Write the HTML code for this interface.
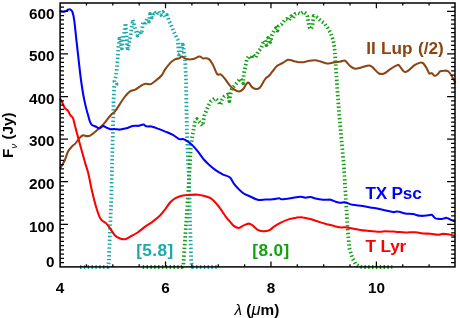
<!DOCTYPE html>
<html><head><meta charset="utf-8"><style>
html,body{margin:0;padding:0;background:#fff;}
svg{display:block;will-change:transform;opacity:0.999}
text{font-family:"Liberation Sans",sans-serif;font-weight:bold;font-size:15.3px;fill:#000}
.lg{font-size:17.2px}
.sy{font-weight:normal;font-style:italic}
</style></head><body>
<svg width="460" height="318" viewBox="0 0 460 318">
<rect width="460" height="318" fill="#fff"/>
<g fill="none" stroke-linejoin="round" stroke-linecap="butt">
<path d="M80.0 267.0 L107.7 267.0 L108.9 262.0 L110.0 230.0 L111.3 200.0 L112.1 160.0 L113.0 130.0 L113.6 100.0 L114.2 86.0 L116.6 84.0 L114.4 81.5 L116.0 76.0 L117.7 59.0 L118.3 47.5 L119.6 36.5 L121.8 48.5 L125.6 23.2 L127.6 50.5 L130.5 36.0 L132.8 19.9 L135.5 30.0 L137.5 35.5 L140.0 31.0 L141.5 34.0 L143.2 21.4 L145.0 25.0 L147.0 19.0 L149.0 21.5 L150.0 14.0 L152.0 17.5 L154.0 11.5 L156.5 14.5 L158.5 11.3 L161.0 15.0 L163.0 12.0 L165.5 17.0 L167.0 15.0 L169.0 21.0 L170.2 22.9 L172.5 28.5 L174.9 34.2 L177.7 39.8 L178.3 47.0 L178.8 54.5 L181.6 52.0 L182.4 42.5 L183.6 48.0 L184.6 56.0 L185.2 62.0 L186.0 80.0 L186.5 110.0 L187.0 135.0 L188.0 160.0 L189.0 180.0 L190.0 220.0 L191.2 262.0 L192.5 267.0 L217.0 267.0" stroke="#1aa9a9" stroke-width="3.8" stroke-dasharray="1.45 2.39"/>
<path d="M142.7 267.0 L182.0 267.0 L183.4 264.5 L185.0 240.0 L187.0 210.0 L189.0 180.0 L190.8 148.3 L192.0 138.0 L193.6 129.4 L195.0 122.0 L197.0 119.0 L199.5 122.0 L202.6 125.7 L203.5 120.0 L204.5 115.3 L208.3 105.8 L211.0 101.0 L214.9 98.3 L217.0 100.0 L220.6 104.9 L222.0 100.0 L224.3 96.4 L228.1 94.5 L229.4 101.1 L230.5 94.0 L231.9 88.9 L236.6 83.2 L240.4 78.5 L243.2 83.2 L243.6 75.0 L245.1 68.0 L246.8 59.2 L249.0 56.0 L251.0 59.0 L253.0 54.5 L255.5 57.5 L258.0 52.0 L260.9 48.6 L263.0 43.0 L264.5 40.4 L266.5 45.0 L268.0 38.0 L270.5 42.0 L272.0 35.0 L273.9 30.9 L276.0 28.0 L277.5 30.5 L278.6 26.2 L281.9 24.0 L284.5 20.3 L286.6 19.0 L289.0 20.5 L291.3 16.3 L293.0 18.5 L295.0 14.0 L297.9 12.9 L300.5 14.0 L303.6 11.8 L306.0 13.5 L307.5 16.5 L308.3 22.0 L309.3 27.0 L310.8 29.2 L312.3 26.5 L313.0 20.5 L313.7 16.0 L316.8 17.3 L320.6 20.6 L324.6 23.5 L327.7 28.0 L330.6 33.0 L333.1 39.9 L334.5 47.5 L335.4 60.0 L337.0 85.0 L339.0 112.0 L341.5 140.0 L343.8 165.0 L345.9 199.6 L347.5 227.3 L349.3 248.0 L352.5 258.4 L356.0 264.7 L359.4 266.6 L362.0 267.0 L392.3 267.0" stroke="#14a014" stroke-width="3.8" stroke-dasharray="1.45 2.39"/>
<path d="M59.9 168.8 C60.7 167.3 63.6 162.9 64.9 160.0 C66.2 157.1 66.8 153.9 67.9 151.7 C69.1 149.5 70.4 148.1 71.7 146.7 C73.0 145.3 74.2 144.8 75.5 143.4 C76.7 142.0 78.0 139.7 79.2 138.4 C80.5 137.0 81.8 135.7 83.0 135.3 C84.3 135.0 85.5 136.1 86.8 136.1 C88.1 136.1 88.9 136.3 90.6 135.3 C92.2 134.4 95.0 131.9 96.9 130.3 C98.7 128.7 100.4 127.3 101.9 125.8 C103.4 124.3 104.2 123.3 105.7 121.5 C107.1 119.7 109.1 116.9 110.7 115.2 C112.2 113.5 113.4 113.3 115.0 111.4 C116.5 109.6 118.3 106.4 120.0 103.9 C121.7 101.4 123.4 98.4 125.1 96.4 C126.7 94.3 128.4 92.5 130.1 91.3 C131.8 90.2 133.4 90.4 135.1 89.6 C136.8 88.7 138.5 87.3 140.2 86.3 C141.8 85.3 143.5 84.1 145.2 83.8 C146.9 83.4 148.8 84.6 150.2 84.3 C151.7 84.0 152.9 82.7 154.0 82.0 C155.0 81.3 155.3 81.1 156.5 80.0 C157.8 78.9 160.1 77.3 161.5 75.5 C163.0 73.7 163.8 71.3 165.3 69.2 C166.8 67.1 168.7 64.6 170.3 62.9 C172.0 61.2 173.9 59.9 175.4 59.1 C176.8 58.4 178.1 58.8 179.2 58.4 C180.2 57.9 180.4 56.5 181.7 56.6 C182.9 56.7 184.8 58.7 186.7 59.1 C188.6 59.5 190.9 59.5 193.0 59.1 C195.1 58.7 197.6 56.7 199.3 56.6 C201.0 56.5 202.1 58.1 203.1 58.4 C204.0 58.6 204.0 58.2 205.0 58.3 C206.0 58.4 207.6 58.1 208.9 59.1 C210.2 60.1 211.4 62.1 212.8 64.6 C214.2 67.1 215.8 72.4 217.1 74.0 C218.4 75.6 219.4 73.7 220.7 74.4 C221.9 75.1 223.1 76.5 224.6 78.3 C226.1 80.1 227.9 83.2 229.5 85.1 C231.1 87.0 232.8 88.5 234.4 89.6 C236.0 90.6 237.7 91.5 239.2 91.4 C240.7 91.3 242.0 90.3 243.2 89.0 C244.4 87.7 245.5 84.7 246.5 83.7 C247.5 82.7 248.1 82.2 249.0 82.8 C249.9 83.4 250.8 86.1 252.0 87.1 C253.2 88.1 254.6 88.9 255.9 89.0 C257.2 89.1 258.7 88.7 259.8 87.7 C260.9 86.7 261.7 84.8 262.7 83.2 C263.7 81.6 264.7 79.5 265.7 78.3 C266.7 77.1 267.5 77.4 268.6 76.3 C269.7 75.2 271.2 73.0 272.5 71.4 C273.8 69.8 275.2 67.6 276.4 66.5 C277.5 65.4 278.2 65.2 279.4 64.6 C280.5 63.9 281.8 63.4 283.3 62.6 C284.8 61.8 286.4 59.9 288.2 59.7 C290.0 59.5 292.4 60.8 294.2 61.2 C296.0 61.6 297.3 62.0 298.9 62.2 C300.5 62.4 302.0 62.4 303.6 62.2 C305.2 62.0 306.4 61.3 308.3 61.0 C310.2 60.7 312.8 60.2 314.9 60.3 C316.9 60.4 318.9 61.1 320.6 61.6 C322.3 62.1 323.9 62.8 325.3 63.1 C326.7 63.4 327.4 63.6 329.0 63.5 C330.6 63.4 332.8 62.5 334.7 62.2 C336.6 61.9 338.7 61.9 340.4 61.6 C342.1 61.4 343.4 60.0 345.0 60.7 C346.6 61.4 348.4 64.6 350.0 65.9 C351.7 67.2 353.2 68.4 355.1 68.7 C356.9 68.9 359.0 68.0 361.4 67.4 C363.7 66.9 367.0 65.4 368.9 65.4 C370.8 65.4 371.0 66.1 372.7 67.4 C374.4 68.8 377.1 72.5 379.0 73.5 C380.8 74.5 382.1 74.2 384.0 73.5 C385.9 72.7 388.2 70.5 390.3 69.2 C392.4 67.8 395.1 66.0 396.6 65.4 C398.0 64.8 397.8 64.4 399.1 65.4 C400.3 66.5 402.7 70.8 404.1 71.7 C405.6 72.6 406.2 72.0 407.9 70.9 C409.6 69.9 412.3 66.8 414.2 65.4 C416.1 64.1 417.7 63.3 419.2 62.9 C420.7 62.5 421.7 62.2 423.0 63.1 C424.2 64.1 425.7 66.7 426.8 68.4 C427.8 70.1 428.4 72.7 429.3 73.5 C430.1 74.3 431.0 72.8 431.8 73.2 C432.6 73.6 433.5 75.4 434.3 75.7 C435.1 76.0 435.9 75.7 436.8 75.0 C437.8 74.3 439.0 72.2 440.1 71.4 C441.2 70.7 442.3 70.7 443.6 70.7 C444.9 70.6 446.6 70.4 447.9 71.2 C449.2 72.0 450.2 73.5 451.4 75.5 C452.7 77.5 454.8 82.0 455.4 83.3" stroke="#8b4513" stroke-width="2.05"/>
<path d="M59.9 10.8 C60.4 11.0 61.9 11.8 62.9 11.8 C63.9 11.9 65.0 11.4 65.9 11.1 C66.8 10.7 67.7 9.8 68.4 9.6 C69.2 9.3 69.8 9.1 70.4 9.6 C71.1 10.0 71.8 10.3 72.5 12.1 C73.1 13.8 73.5 15.0 74.2 20.1 C74.9 25.2 75.6 32.8 76.7 42.8 C77.9 52.7 79.7 70.4 81.0 80.0 C82.3 89.6 83.1 94.3 84.3 100.1 C85.5 106.0 86.9 111.2 88.1 115.2 C89.2 119.2 89.8 122.1 91.1 124.0 C92.3 125.9 94.2 125.8 95.6 126.5 C97.0 127.3 98.1 128.4 99.4 128.3 C100.6 128.2 101.9 126.1 103.1 126.0 C104.4 126.0 105.7 127.3 106.9 127.8 C108.2 128.3 109.4 129.1 110.7 129.3 C112.0 129.5 113.4 129.0 115.0 129.1 C116.5 129.1 118.1 129.7 120.0 129.6 C121.9 129.4 124.2 128.9 126.3 128.3 C128.4 127.7 130.5 126.5 132.6 126.0 C134.7 125.6 137.1 126.0 138.9 125.8 C140.7 125.5 142.2 124.4 143.4 124.5 C144.7 124.6 145.1 126.0 146.4 126.3 C147.8 126.6 149.6 126.2 151.5 126.5 C153.4 126.9 155.5 127.7 157.8 128.6 C160.1 129.4 162.8 130.5 165.3 131.6 C167.8 132.6 170.6 133.6 172.9 134.8 C175.2 136.1 177.5 138.4 179.2 139.1 C180.8 139.8 181.5 138.7 182.9 139.1 C184.4 139.5 186.3 140.5 188.0 141.6 C189.6 142.8 191.3 144.2 193.0 145.9 C194.7 147.6 196.1 149.4 198.0 151.7 C199.9 154.0 202.4 157.8 204.3 160.0 C206.2 162.2 207.5 163.4 209.3 165.0 C211.2 166.7 213.3 168.5 215.6 170.1 C217.9 171.7 220.8 173.3 223.2 174.6 C225.6 175.8 228.0 175.8 230.0 177.6 C231.9 179.4 232.9 182.6 235.0 185.2 C237.1 187.7 240.1 190.8 242.6 192.7 C245.1 194.6 247.6 195.3 250.1 196.5 C252.6 197.7 255.2 199.2 257.7 199.7 C260.2 200.3 262.7 199.6 265.2 199.5 C267.7 199.4 270.5 199.5 272.8 199.2 C275.1 199.0 277.6 198.2 279.1 198.2 C280.5 198.2 279.7 199.2 281.6 199.2 C283.5 199.2 287.2 198.7 290.4 198.2 C293.5 197.8 297.9 196.8 300.4 196.7 C303.0 196.6 303.8 197.7 305.5 197.7 C307.1 197.8 308.8 196.9 310.5 197.0 C312.2 197.1 313.4 198.0 315.5 198.5 C317.6 199.0 320.6 199.5 323.1 199.7 C325.6 200.0 328.5 199.4 330.6 199.7 C332.7 200.1 334.0 201.3 335.7 201.8 C337.3 202.3 339.1 202.7 340.7 202.8 C342.2 202.9 343.0 201.9 345.0 202.3 C346.9 202.6 349.6 204.2 352.5 204.8 C355.5 205.4 359.3 205.5 362.6 206.0 C366.0 206.5 369.3 207.2 372.7 207.8 C376.0 208.4 379.4 209.1 382.7 209.8 C386.1 210.5 390.3 211.8 392.8 212.1 C395.3 212.4 395.7 211.3 397.8 211.6 C399.9 211.8 402.9 213.2 405.4 213.6 C407.9 214.0 410.4 213.7 412.9 214.1 C415.4 214.5 418.0 215.6 420.5 215.8 C423.0 216.1 426.1 215.5 428.0 215.3 C429.9 215.2 430.5 214.3 431.8 214.8 C433.1 215.3 433.9 217.7 435.6 218.4 C437.2 219.0 440.0 219.0 441.9 218.9 C443.7 218.8 445.2 217.6 446.9 217.9 C448.6 218.1 450.5 219.7 451.9 220.4 C453.3 221.0 454.6 221.4 455.2 221.6" stroke="#0000ff" stroke-width="2.05"/>
<path d="M59.9 98.1 C60.4 99.1 62.1 102.2 62.9 103.9 C63.7 105.6 64.1 107.0 64.9 108.2 C65.7 109.3 67.0 109.5 67.9 110.7 C68.8 111.9 69.6 114.0 70.4 115.2 C71.3 116.5 72.1 116.1 73.0 118.2 C73.8 120.3 74.4 123.9 75.5 127.8 C76.5 131.7 77.8 136.3 79.2 141.6 C80.7 147.0 82.8 154.8 84.3 160.0 C85.7 165.2 86.8 167.5 88.1 172.6 C89.3 177.6 90.6 184.7 91.8 190.2 C93.1 195.6 94.3 200.9 95.6 205.3 C96.9 209.7 98.3 214.1 99.4 216.6 C100.4 219.1 100.8 219.3 101.9 220.4 C102.9 221.4 104.4 221.7 105.7 222.9 C106.9 224.1 107.9 225.3 109.4 227.4 C111.0 229.5 113.2 233.6 115.0 235.5 C116.7 237.3 118.3 237.9 120.0 238.5 C121.7 239.1 123.4 239.5 125.1 239.2 C126.7 239.0 128.0 237.9 130.1 236.7 C132.2 235.6 135.1 234.1 137.6 232.5 C140.2 230.8 142.7 228.5 145.2 226.7 C147.7 224.9 150.2 223.5 152.7 221.6 C155.3 219.7 158.2 217.4 160.3 215.3 C162.4 213.2 163.6 211.2 165.3 209.1 C167.0 206.9 168.7 204.1 170.3 202.3 C172.0 200.5 173.5 199.3 175.4 198.2 C177.3 197.1 179.6 196.3 181.7 195.7 C183.8 195.2 185.2 195.1 188.0 195.0 C190.7 194.8 195.3 194.5 198.0 194.7 C200.7 194.9 202.2 195.4 204.3 196.0 C206.4 196.6 208.7 197.1 210.6 198.2 C212.5 199.4 214.0 201.0 215.6 202.8 C217.3 204.6 219.0 206.8 220.7 209.1 C222.3 211.4 224.1 214.5 225.7 216.6 C227.2 218.7 228.6 220.1 230.0 221.6 C231.3 223.2 232.3 224.9 233.8 225.9 C235.2 227.0 237.1 228.0 238.8 227.9 C240.5 227.8 242.2 226.1 243.8 225.4 C245.5 224.7 247.4 223.6 248.9 223.6 C250.3 223.6 251.2 224.4 252.6 225.4 C254.1 226.5 256.0 229.0 257.7 229.9 C259.4 230.9 260.8 231.1 262.7 231.2 C264.6 231.3 267.1 231.2 269.0 230.4 C270.9 229.7 272.1 227.9 274.0 226.7 C275.9 225.4 277.8 224.2 280.3 222.9 C282.8 221.6 286.4 220.0 289.1 219.1 C291.8 218.2 294.4 217.9 296.7 217.6 C299.0 217.3 300.6 217.1 303.0 217.4 C305.3 217.6 308.0 218.4 310.5 219.1 C313.0 219.8 315.3 220.8 318.1 221.6 C320.8 222.5 323.9 223.4 326.9 224.2 C329.8 224.9 333.1 225.9 335.7 226.4 C338.2 227.0 340.4 227.3 341.9 227.4 C343.5 227.5 343.2 227.0 345.0 227.2 C346.7 227.3 350.0 228.0 352.5 228.4 C355.1 228.9 357.2 229.5 360.1 229.9 C363.0 230.4 366.8 230.6 370.2 230.9 C373.5 231.2 377.7 231.7 380.2 231.7 C382.7 231.7 382.7 231.2 385.3 231.2 C387.8 231.2 392.0 231.5 395.3 231.7 C398.7 231.9 402.0 232.4 405.4 232.5 C408.7 232.5 412.5 232.0 415.4 232.2 C418.4 232.4 420.5 233.2 423.0 233.5 C425.5 233.7 428.0 233.5 430.5 233.7 C433.1 233.9 436.0 234.7 438.1 234.7 C440.2 234.7 441.2 233.8 443.1 233.7 C445.0 233.7 447.4 234.1 449.4 234.5 C451.4 234.8 454.2 235.7 455.2 236.0" stroke="#ff0000" stroke-width="2.05"/>
</g>
<g fill="none" stroke="#000">
<rect x="60.1" y="3.0" width="394.9" height="263.9" stroke-width="1.5"/>
<path d="M86.46 266.90 v-2.60 M86.46 3.00 v2.60 M112.82 266.90 v-2.60 M112.82 3.00 v2.60 M139.17 266.90 v-2.60 M139.17 3.00 v2.60 M165.53 266.90 v-5.30 M165.53 3.00 v5.30 M191.89 266.90 v-2.60 M191.89 3.00 v2.60 M218.25 266.90 v-2.60 M218.25 3.00 v2.60 M244.61 266.90 v-2.60 M244.61 3.00 v2.60 M270.97 266.90 v-5.30 M270.97 3.00 v5.30 M297.32 266.90 v-2.60 M297.32 3.00 v2.60 M323.68 266.90 v-2.60 M323.68 3.00 v2.60 M350.04 266.90 v-2.60 M350.04 3.00 v2.60 M376.40 266.90 v-5.30 M376.40 3.00 v5.30 M402.76 266.90 v-2.60 M402.76 3.00 v2.60 M429.12 266.90 v-2.60 M429.12 3.00 v2.60 M60.10 262.64 h3.90 M455.00 262.64 h-3.90 M60.10 258.38 h3.90 M455.00 258.38 h-3.90 M60.10 254.12 h3.90 M455.00 254.12 h-3.90 M60.10 249.86 h3.90 M455.00 249.86 h-3.90 M60.10 245.60 h3.90 M455.00 245.60 h-3.90 M60.10 241.34 h3.90 M455.00 241.34 h-3.90 M60.10 237.08 h3.90 M455.00 237.08 h-3.90 M60.10 232.82 h3.90 M455.00 232.82 h-3.90 M60.10 228.56 h3.90 M455.00 228.56 h-3.90 M60.10 224.30 h7.90 M455.00 224.30 h-7.90 M60.10 220.04 h3.90 M455.00 220.04 h-3.90 M60.10 215.78 h3.90 M455.00 215.78 h-3.90 M60.10 211.52 h3.90 M455.00 211.52 h-3.90 M60.10 207.26 h3.90 M455.00 207.26 h-3.90 M60.10 203.00 h3.90 M455.00 203.00 h-3.90 M60.10 198.74 h3.90 M455.00 198.74 h-3.90 M60.10 194.48 h3.90 M455.00 194.48 h-3.90 M60.10 190.22 h3.90 M455.00 190.22 h-3.90 M60.10 185.96 h3.90 M455.00 185.96 h-3.90 M60.10 181.70 h7.90 M455.00 181.70 h-7.90 M60.10 177.44 h3.90 M455.00 177.44 h-3.90 M60.10 173.18 h3.90 M455.00 173.18 h-3.90 M60.10 168.92 h3.90 M455.00 168.92 h-3.90 M60.10 164.66 h3.90 M455.00 164.66 h-3.90 M60.10 160.40 h3.90 M455.00 160.40 h-3.90 M60.10 156.14 h3.90 M455.00 156.14 h-3.90 M60.10 151.88 h3.90 M455.00 151.88 h-3.90 M60.10 147.62 h3.90 M455.00 147.62 h-3.90 M60.10 143.36 h3.90 M455.00 143.36 h-3.90 M60.10 139.10 h7.90 M455.00 139.10 h-7.90 M60.10 134.84 h3.90 M455.00 134.84 h-3.90 M60.10 130.58 h3.90 M455.00 130.58 h-3.90 M60.10 126.32 h3.90 M455.00 126.32 h-3.90 M60.10 122.06 h3.90 M455.00 122.06 h-3.90 M60.10 117.80 h3.90 M455.00 117.80 h-3.90 M60.10 113.54 h3.90 M455.00 113.54 h-3.90 M60.10 109.28 h3.90 M455.00 109.28 h-3.90 M60.10 105.02 h3.90 M455.00 105.02 h-3.90 M60.10 100.76 h3.90 M455.00 100.76 h-3.90 M60.10 96.50 h7.90 M455.00 96.50 h-7.90 M60.10 92.24 h3.90 M455.00 92.24 h-3.90 M60.10 87.98 h3.90 M455.00 87.98 h-3.90 M60.10 83.72 h3.90 M455.00 83.72 h-3.90 M60.10 79.46 h3.90 M455.00 79.46 h-3.90 M60.10 75.20 h3.90 M455.00 75.20 h-3.90 M60.10 70.94 h3.90 M455.00 70.94 h-3.90 M60.10 66.68 h3.90 M455.00 66.68 h-3.90 M60.10 62.42 h3.90 M455.00 62.42 h-3.90 M60.10 58.16 h3.90 M455.00 58.16 h-3.90 M60.10 53.90 h7.90 M455.00 53.90 h-7.90 M60.10 49.64 h3.90 M455.00 49.64 h-3.90 M60.10 45.38 h3.90 M455.00 45.38 h-3.90 M60.10 41.12 h3.90 M455.00 41.12 h-3.90 M60.10 36.86 h3.90 M455.00 36.86 h-3.90 M60.10 32.60 h3.90 M455.00 32.60 h-3.90 M60.10 28.34 h3.90 M455.00 28.34 h-3.90 M60.10 24.08 h3.90 M455.00 24.08 h-3.90 M60.10 19.82 h3.90 M455.00 19.82 h-3.90 M60.10 15.56 h3.90 M455.00 15.56 h-3.90 M60.10 11.30 h7.90 M455.00 11.30 h-7.90 M60.10 7.04 h3.90 M455.00 7.04 h-3.90" stroke-width="1.25"/>
</g>
<text x="54.6" y="267.0" text-anchor="end">0</text><text x="54.6" y="231.6" text-anchor="end">100</text><text x="54.6" y="189.0" text-anchor="end">200</text><text x="54.6" y="146.4" text-anchor="end">300</text><text x="54.6" y="103.8" text-anchor="end">400</text><text x="54.6" y="61.2" text-anchor="end">500</text><text x="54.6" y="18.6" text-anchor="end">600</text>
<text x="60.1" y="293" text-anchor="middle">4</text><text x="165.5" y="293" text-anchor="middle">6</text><text x="271.0" y="293" text-anchor="middle">8</text><text x="376.4" y="293" text-anchor="middle">10</text>
<text x="234.6" y="314.9"><tspan class="sy">λ</tspan> (<tspan class="sy" font-size="16.5">μ</tspan>m)</text>
<text transform="translate(12.8,135.2) rotate(-90)" text-anchor="middle">F<tspan font-size="9.5" dy="4.2" class="sy">ν</tspan><tspan dy="-4.2"> (Jy)</tspan></text>
<text class="lg" x="366.2" y="53.9" style="fill:#8b4513;word-spacing:0.6px">II Lup (/2)</text>
<text class="lg" x="365.4" y="199.2" style="fill:#0000ff;letter-spacing:-0.2px">TX Psc</text>
<text class="lg" x="365.6" y="251.6" style="fill:#ff0000;letter-spacing:-0.2px">T Lyr</text>
<text class="lg" x="136.2" y="256.1" style="fill:#1aa9a9;letter-spacing:0.4px">[5.8]</text>
<text class="lg" x="252.3" y="256.1" style="fill:#14a014;letter-spacing:0.4px">[8.0]</text>
</svg>
</body></html>
